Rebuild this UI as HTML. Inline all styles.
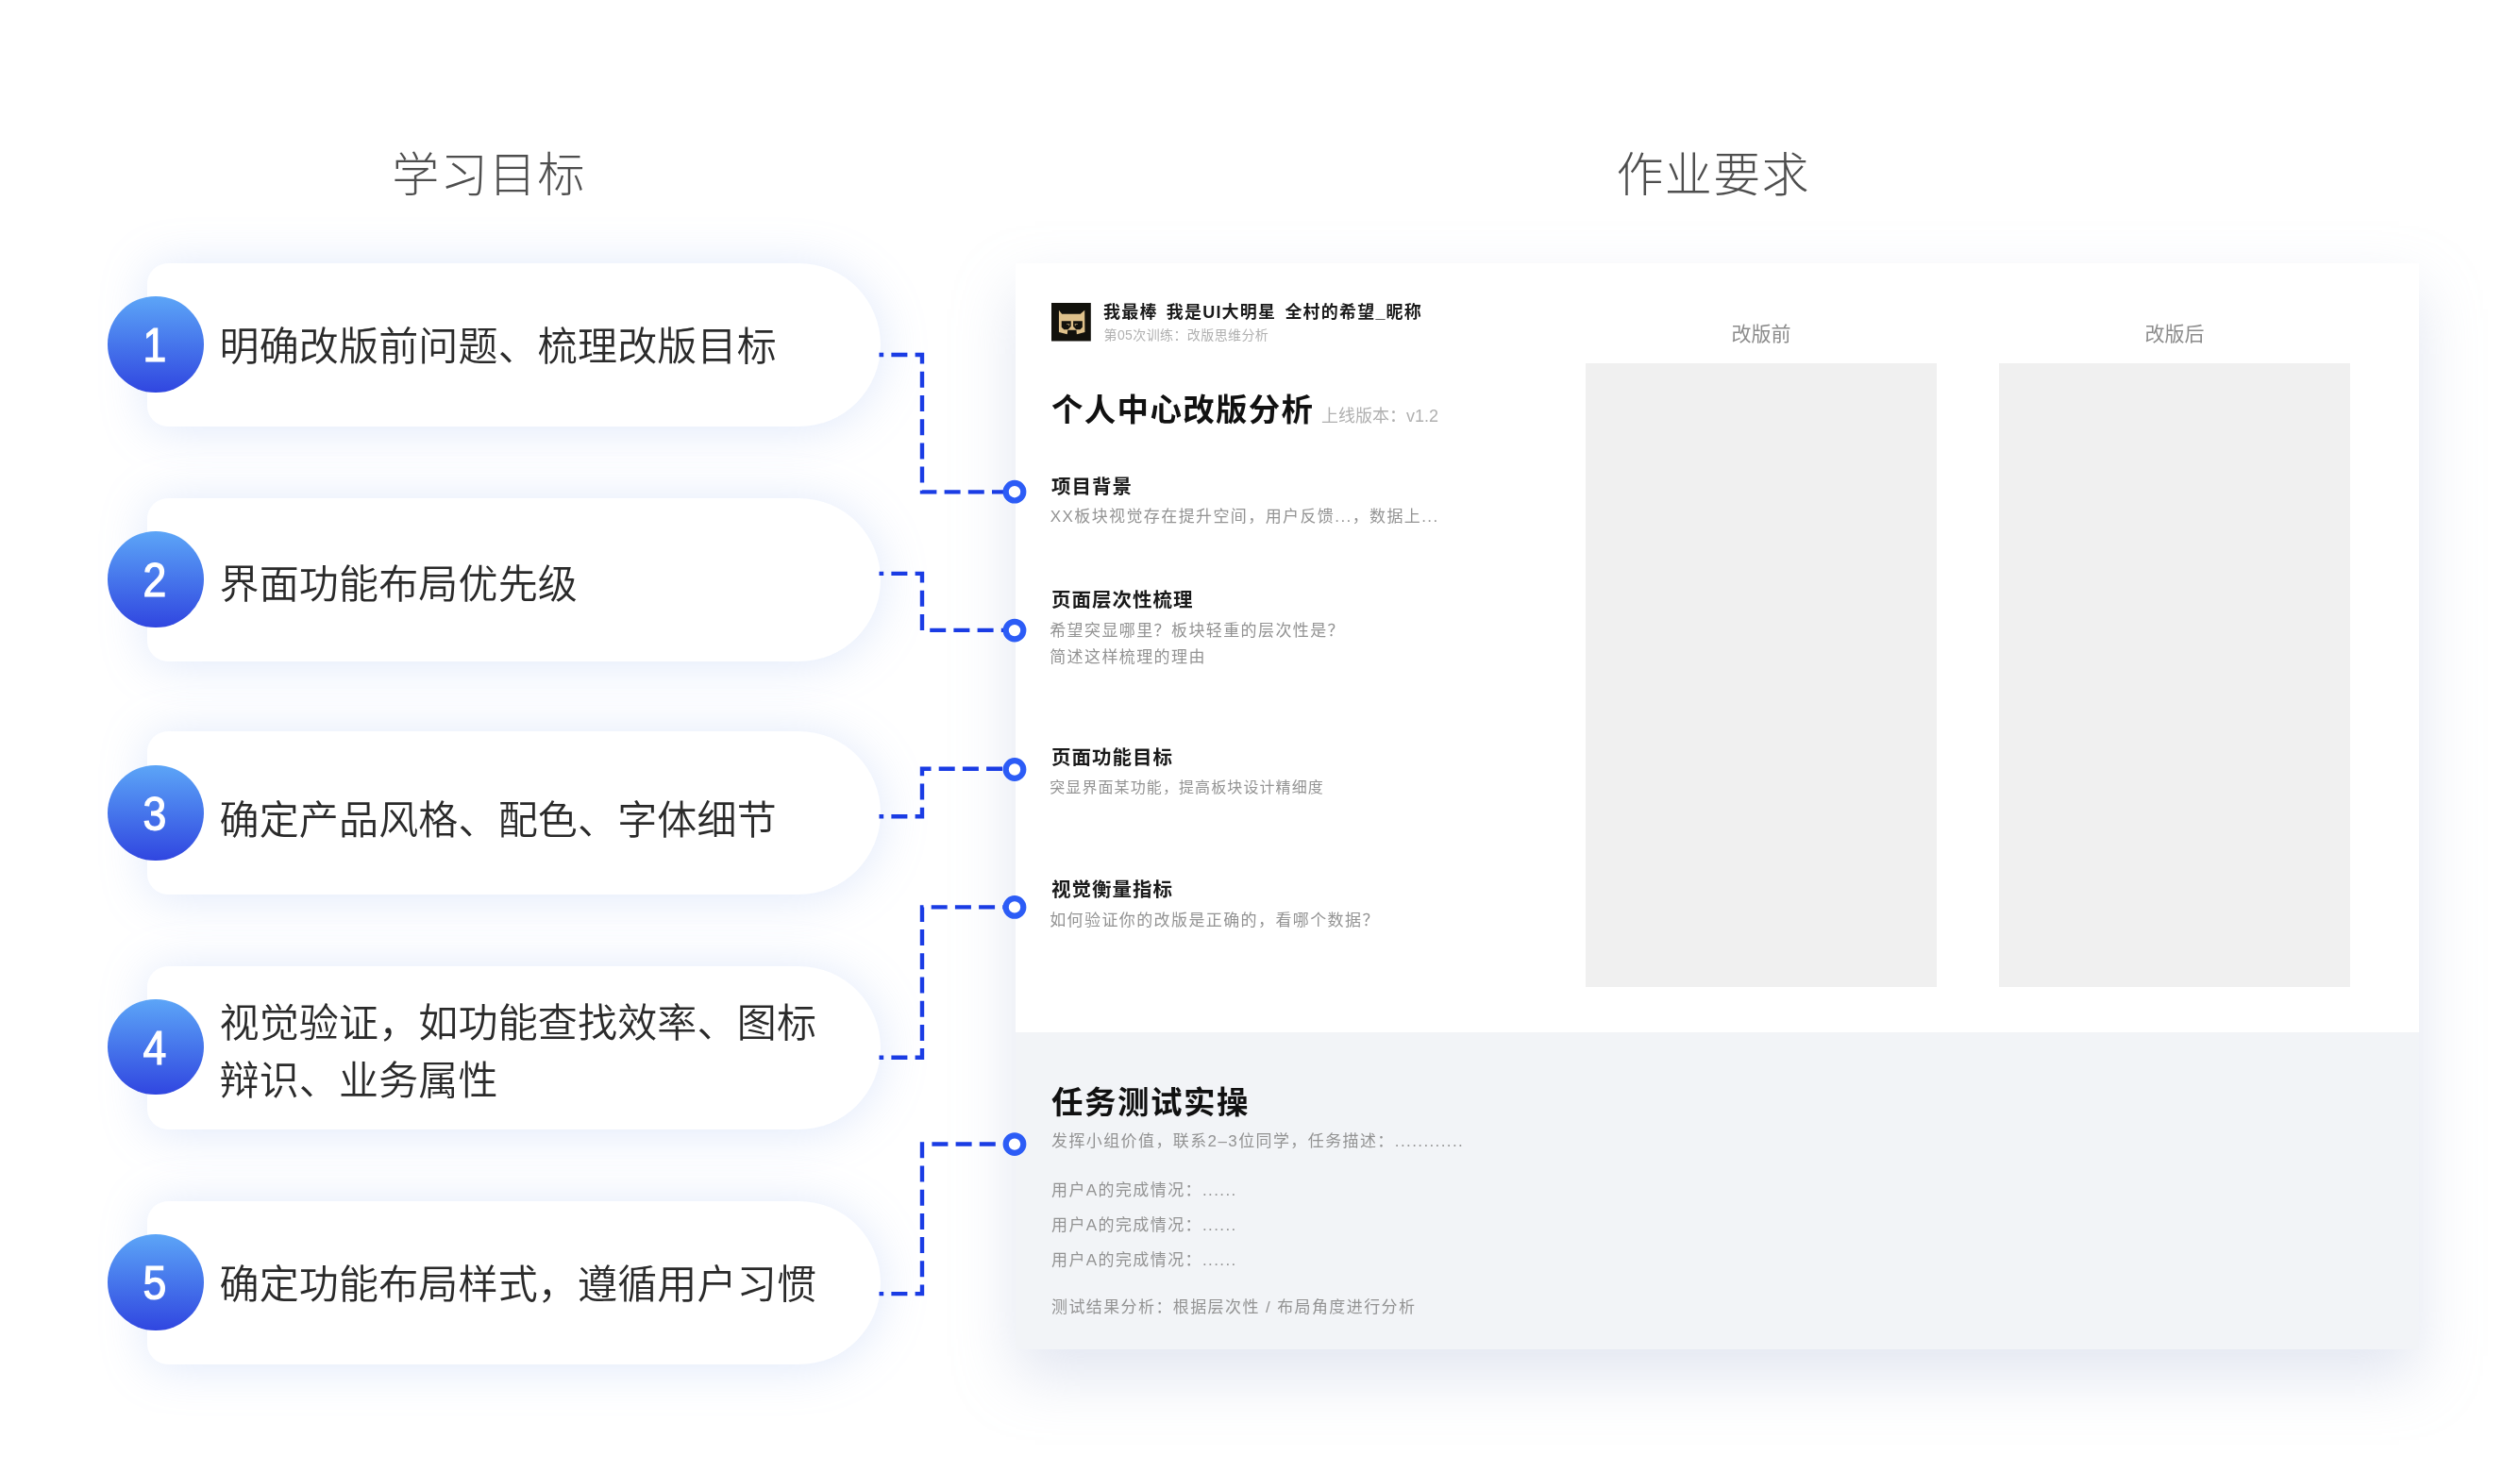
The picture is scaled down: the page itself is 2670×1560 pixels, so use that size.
<!DOCTYPE html>
<html lang="zh-CN">
<head>
<meta charset="utf-8">
<title>学习目标 / 作业要求</title>
<style>
*{margin:0;padding:0;box-sizing:border-box;}
html,body{width:2670px;height:1560px;background:#fff;overflow:hidden;}
body{position:relative;font-family:"Liberation Sans","Noto Sans CJK SC",sans-serif;color:#333;}
.abs{position:absolute;white-space:nowrap;}
.h1{position:absolute;top:150px;font-size:50px;line-height:72px;font-weight:300;color:#4e4e4e;letter-spacing:1.4px;white-space:nowrap;}
.pill{position:absolute;left:156px;width:777px;height:173px;background:#fff;border-radius:22px 87px 87px 22px;box-shadow:0 3px 50px rgba(135,170,235,0.27);}
.pill .num{position:absolute;left:-41.8px;top:35px;width:101.6px;height:101.6px;border-radius:50%;background:linear-gradient(180deg,#5ca5f7 0%,#3046e0 100%);color:#fff;text-align:center;}
.pill .num span{display:inline-block;font-family:"Liberation Sans",sans-serif;font-weight:400;font-size:49.5px;line-height:101.6px;-webkit-text-stroke:1.2px #fff;transform:translate(-0.9px,1.4px) scaleX(0.9);}
.pill .txt{position:absolute;left:76.5px;top:0;height:173px;display:flex;align-items:center;font-size:42px;line-height:61px;letter-spacing:0.17px;color:#2a2a2a;font-weight:350;white-space:nowrap;}
.card{position:absolute;left:1075.5px;top:278.7px;width:1487.5px;height:1151.3px;background:#f2f4f7;box-shadow:0 28px 60px 0 rgba(173,184,216,0.35);}
.card .white{position:absolute;left:0;top:0;width:100%;height:815.4px;background:#fff;}
.g{color:#939393;}
.b{font-weight:700;color:#1a1a1a;}
.hd{left:1114px;font-size:20.5px;line-height:30px;letter-spacing:1px;}
.ds{left:1112.2px;font-size:17px;line-height:26px;letter-spacing:1.4px;}
.box{position:absolute;top:385px;width:372px;height:661px;background:#f0f0f0;}
.lab{position:absolute;top:339px;width:372px;text-align:center;font-size:21px;line-height:30px;color:#8c8c8c;}
svg.conn{position:absolute;left:0;top:0;width:2670px;height:1560px;pointer-events:none;}
</style>
</head>
<body><div id="wrap" style="position:absolute;left:0;top:0;width:2670px;height:1560px;will-change:transform;">

<div class="h1" style="left:415.3px;">学习目标</div>
<div class="h1" style="left:1712.4px;">作业要求</div>

<!-- left pills -->
<div class="pill" style="top:279px;"><div class="num" style="top:35px;"><span>1</span></div><div class="txt" style="top:2px;">明确改版前问题、梳理改版目标</div></div>
<div class="pill" style="top:527.5px;"><div class="num" style="top:35.5px;"><span>2</span></div><div class="txt" style="top:5.5px;">界面功能布局优先级</div></div>
<div class="pill" style="top:775px;"><div class="num" style="top:35.5px;"><span>3</span></div><div class="txt" style="top:7.7px;">确定产品风格、配色、字体细节</div></div>
<div class="pill" style="top:1024px;"><div class="num" style="top:34.8px;"><span>4</span></div><div class="txt" style="top:4.4px;">视觉验证，如功能查找效率、图标<br>辩识、业务属性</div></div>
<div class="pill" style="top:1273px;"><div class="num" style="top:35px;"><span>5</span></div><div class="txt" style="top:2.2px;">确定功能布局样式，遵循用户习惯</div></div>

<!-- right card -->
<div class="card"><div class="white"></div></div>

<!-- avatar -->
<svg class="abs" style="left:1114.2px;top:321.2px;" width="41.8" height="40.5" viewBox="0 0 42 41" preserveAspectRatio="none">
  <rect width="42" height="41" fill="#12110c"/>
  <path d="M8 7.8 L11.2 12 L30.8 12 L35.4 7.8 L35.6 31.4 L27 33.7 L26.6 29.2 L17.4 29.2 L16.8 33.7 L8 31.4 Z" fill="#dfc18b"/>
  <path d="M10.8 19.5 L20.8 19.5 L20.8 25.2 L17.6 28.6 L13.4 28.6 L10.8 26 Z" fill="#12110c"/>
  <path d="M33 19.5 L23.2 19.5 L23.2 25.2 L26.4 28.6 L30.6 28.6 L33 26 Z" fill="#12110c"/>
  <path d="M16.2 22.2 H19.4 V24.6 H18 V23.4 H16.2 Z M28 22.2 H24.8 V24.6 H26.2 V23.4 H28 Z" fill="#dfc18b" opacity="0.6"/>
</svg>

<div class="abs b" style="left:1169px;top:317px;font-size:18px;line-height:28px;letter-spacing:1.2px;word-spacing:3px;">我最棒 我是UI大明星 全村的希望_昵称</div>
<div class="abs" style="left:1169.5px;top:345px;font-size:14px;line-height:20px;color:#b0b0b0;letter-spacing:0.4px;">第05次训练：改版思维分析</div>

<div class="abs b" style="left:1114px;top:410px;font-size:33.5px;line-height:50px;letter-spacing:1.3px;color:#111;">个人中心改版分析</div>
<div class="abs" style="left:1400px;top:428px;font-size:18px;line-height:26px;color:#b0b0b0;">上线版本：v1.2</div>

<div class="abs b hd" style="top:501px;">项目背景</div>
<div class="abs g ds" style="left:1112.8px;top:534.5px;">XX板块视觉存在提升空间，用户反馈...，数据上...</div>

<div class="abs b hd" style="top:620.5px;">页面层次性梳理</div>
<div class="abs g ds" style="top:655px;line-height:28.2px;">希望突显哪里？板块轻重的层次性是？<br>简述这样梳理的理由</div>

<div class="abs b hd" style="top:788.4px;">页面功能目标</div>
<div class="abs g ds" style="top:822px;font-size:16px;letter-spacing:1.1px;">突显界面某功能，提高板块设计精细度</div>

<div class="abs b hd" style="top:928px;">视觉衡量指标</div>
<div class="abs g ds" style="top:962.5px;">如何验证你的改版是正确的，看哪个数据？</div>

<div class="lab" style="left:1680px;">改版前</div>
<div class="lab" style="left:2118px;">改版后</div>
<div class="box" style="left:1680px;"></div>
<div class="box" style="left:2118px;"></div>

<div class="abs b" style="left:1114px;top:1144px;font-size:33.5px;line-height:50px;letter-spacing:1.5px;color:#111;">任务测试实操</div>
<div class="abs g ds" style="left:1114px;top:1196.5px;">发挥小组价值，联系2–3位同学，任务描述：............</div>
<div class="abs g ds" style="left:1114px;top:1242.5px;line-height:37.3px;">用户A的完成情况：......<br>用户A的完成情况：......<br>用户A的完成情况：......</div>
<div class="abs g ds" style="left:1114px;top:1372.5px;">测试结果分析：根据层次性 / 布局角度进行分析</div>

<!-- connectors -->
<svg class="conn" viewBox="0 0 2670 1560">
  <g fill="none" stroke="#1a3ce4" stroke-width="4.4" stroke-dasharray="17 8.2" stroke-dashoffset="12.3">
    <path d="M931.5 376 H977 V521.4 H1063"/>
    <path d="M931.5 607.9 H977 V667.9 H1063"/>
    <path d="M931.5 865.3 H977 V814.8 H1063"/>
    <path d="M931.5 1120.7 H977 V961.4 H1063"/>
    <path d="M931.5 1371.1 H977 V1212.5 H1063"/>
  </g>
  <g fill="#fff" stroke="#2c5cf6" stroke-width="6.2">
    <circle cx="1075" cy="521.2" r="9.3"/>
    <circle cx="1075" cy="668.1" r="9.3"/>
    <circle cx="1075" cy="815.5" r="9.3"/>
    <circle cx="1075" cy="961.4" r="9.3"/>
    <circle cx="1075" cy="1212.6" r="9.3"/>
  </g>
</svg>

</div></body>
</html>
